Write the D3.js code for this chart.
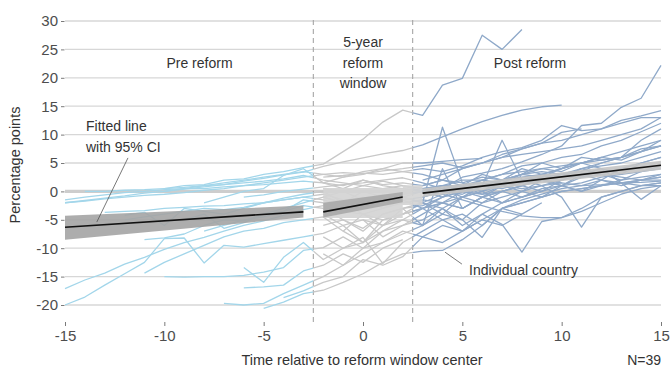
<!DOCTYPE html>
<html>
<head>
<meta charset="utf-8">
<script src="https://cdn.jsdelivr.net/npm/d3@7"></script>
<style>
  body { margin: 0; background: #fff; }
  svg { display: block; }
  text { font-family: "Liberation Sans", Arial, Helvetica, sans-serif; }
</style>
</head>
<body>
<svg id="chart" width="670" height="368"></svg>
<script>
// ---- data ----
const xTicks = [-15, -10, -5, 0, 5, 10, 15];
const yTicks = [-20, -15, -10, -5, 0, 5, 10, 15, 20, 25, 30];
const periodBreaks = [-2.5, 2.5];

// first year of each country's series (years run consecutively from there)
const countryStart = [-10, -15, -6, -15, -15, -11, -10, -6, -7, -5, -4, -6, -15, -15, -13, -12, -11, -8, -10, -12,
  -9, -14, -8, -2, -2, 0, -2, -1, -2, -2, 2, 3, -2, 3, 0, -2, 3, -2, -2];

// percentage-point change, one row per country
const countryValues = [
  [0.5, 1, 1.2, 2, 2.2, 3, 3.5, 4.2, 4.8, 7, 9.2, 12.2, 14.3, 13.4, 18.7, 19.9, 27.5, 25, 28.5],
  [-2, -1.6, -1.2, -0.8, -0.3, 0, 0.4, 0.8, 1.2, 1.8, 2.3, 2.9, 3.4, 4.4, 5.2, 5.9, 6.6, 7.2, 8.2, 9.6, 11, 12.3, 13.4, 14.3, 14.9, 15.2],
  [-1, -0.6, 0, 0.4, 0.8, 1.2, 1.5, 2, 2.4, 1.5, 0.5, 2.5, 3.2, 4, 5.2, 6.5, 8, 11.6, 12, 14.8, 16.4, 22.2],
  [-17.1, -15.6, -14.4, -12.8, -11.6, -10.2, -9, -8.1, -7, -6, -5.2, -4.2, -3.2, -2.5, -3, -1.5, -1, -0.5, 0, 1, 0.5, 2, 3, 4.5, 5, 6, 6.5, 8, 9, 10.5, 12],
  [-20, -18.6, -16.5, -14.5, -12.5, -8.3, -8.2, -12.6, -9.5, -9.8, -9.2, -8.6, -8, -7.4, -6, -9, -5, -4, -3, -2, -1, 0, 1.5, 1, 3, 4, 5, 6],
  [-14.4, -12.5, -11, -9.5, -8, -7, -6.5, -5.5, -5, -4.5, -7, -4, -6, -3, -2.5, -1, 0, -0.5, 1, 2, 2.5, 3, 3.5, 5, 6, 7, 8],
  [-15, -15.1, -15, -15, -14.8, -14.2, -13.4, -10.4, -9.9, -8, -10, -7, -6, -5, -3, -6, -4, -2, -1, 0],
  [-13.4, -16, -11.6, -9, -12, -10, -8.1, -12.7, -9, -7, -5, -4, -6, -3, -2, -1, 0, 0.5, 1, 2, 2.5, 3],
  [-19.7, -20, -19.7, -18, -16.5, -15, -13, -11, -9, -7.5, -6, -3, -5, -2, -1, 0, 1, 2],
  [-20.6, -19.5, -18, -17.4, -16, -14.5, -12.5, -11, -10.5, -10.4, -8.5, -6, -3, -1.5, -0.5, 0.5, 1, 1.2, 1.5, 1.6, 1.8],
  [-18.7, -17.5, -16, -15, -12, -13, -11.5, -8, -9, -7, -5, -6, -4],
  [-17, -16.8, -16.5, -14, -13, -11, -12.5, -10, -8.5],
  [-2, -1.7, -1.3, -1, -0.7, -0.5, -0.2, 0.2, 0.5, 1, 1.5, 2, 2.5, 3, 3.3, 3.1, 3.6, 4, 4.5, 5, 4.2, 5, 6, 6.5, 7, 7.5, 8, 9, 10, 11, 13],
  [-1.5, -1, -0.6, -0.2, 0, 0.3, 0.5, 0.5, 0.8, 1, 1.2, 1.5, 1.8, 1.5, 1, 2, 1.2, 1.5, 1, 2, 1.5, 2.5, 2, 3, 3.5, 3, 4, 4.5, 5, 6, 7],
  [-3.7, -3.5, -3.4, -3, -2.8, -2.6, -2.5, -2.2, -2, -1.5, -1, -0.5, -1.5, -2, -1, -0.5, 0, 0.5, -1, 1, 0.5, 1.5, 2, 1, 2.5, 3, 2, 3.5, 4],
  [-4.2, -3.7, -6, -3, -3.5, -4, -3, -2, -1.2, -0.5, 0, -2, -4, -3, -1.5, -1, 0, 1, -0.5, 0, 1, 2, 3, 2.5, 3],
  [-8.5, -8.2, -7.5, -6, -5, -5.2, -4, -3.5, -2.5, -3, -5, -6.5, -4, -3, -2, -4, -1, 0, -2, -1, 0, 1, 1.5, 2.5, 3, 3.5, 4.5],
  [-2, -1, 0, 0.5, 2.8, 4, 1.5, 0.5, 2, 1, 0.5, 0, -1, 1, 2, 1.5, 3, 4, 3.5, 5, 6, 5.5, 7, 9],
  [0, 0.5, 1, 1.5, 2, 2.5, 3, 3.5, 3, 2.5, 3.5, 4, 3.5, 3, 2, 4, 5, 6, 7.5, 8.5, 10.4, 11],
  [-5, -4.5, -4, -3.5, -3, -3.2, -2.8, -2, -1.5, -1, -1.5, -2.5, -1, -3, -2, -1.5, -2, -3, -1, 0, -1, 0.5, 1, 0, 1, 1.5, 2, 2],
  [-5, -4, -6.5, -5.5, -4, -3, -2, -1, -2, 0, -1, 0, 0.5, 1, 0, 1, 2, 3, 2.5, 4, 5, 5.5, 6, 7.5, 8],
  [0, 0, 0.2, 0.3, 0.5, 0.7, 1, 1.2, 1.5, 1.8, 2.2, 2.8, 2, 1.5, 1, 1.8, 1, 0.5, 1, 2, 2, 3, 3.5, 4, 4.5, 5, 6, 7, 8, 9],
  [-7, -6, -5, -4.5, -3.5, -1.5, -2, -3.5, -4, -5, -4, -3, -2, 0, -1, 1, 0, 2, 1.5],
  [2.5, 2.8, 3.2, 3, 3.5, 4, 3.5, 4.5, 6, 7, 7.7, 9, 11.6, 10.7, 11, 12.5, 13.3, 14.2],
  [-1, 0, -1.5, -0.5, -1, -2, 11.3, 1.5, 0, 2, 3, 5, 4, 6, 5.5, 6, 7, 8],
  [-3, -2, -1.5, -3, -1, 0, 1, 9, 2, 3, 2.5, 4, 5, 6, 9, 11],
  [-6, -5, -7, -4, -3, -6, 4, -3, -1, 0, 1, 2, 1, 3, 4, 3, 5, 6],
  [-7, -9, -6, -5, -3, -5, -7, -4, -5.8, -10.7, -5.3, -4.6, -3, -1, 0, 1, 1.5],
  [-1, -2, -3, -2, -1, -2, -0.5, -1.5, -2.5, -3.5, -4.3, -4.6, -4.6, -3.5, -2, -0.5, 0.5, 1],
  [-8, -10, -9, -7, -5, -6, -4, -5, -8.1, -3, -2, -1, 0, 0.5, 1, 1.5, 2, 2.5],
  [-1, 0, 0.5, 1, 1.5, 1, 2, 1, -1, -6.3, -1, 0, 1, 1],
  [-1, 0, -0.5, 1, 2, 2.5, 3, 4, 5, 4, 1.5, -1.4, 1],
  [1.5, 2.5, 3, 4, 5, 5, 5.3, 5.6, 5.8],
  [2, 3, 4, 5, 6.5, 7.5, 8.5, 9, 10, 11, 12, 13, 13],
  [-5, -6, -4, -2, -3, -1, -2, 0, 1, 0, 2, 3, 2, 4, 5, 6],
  [-11, -13, -10, -9, -7, -8, -6, -7, -5, -3, -4, -2],
  [1, 2, 1, 3, 2, 4, 3, 2.5, 4, 3, 2.5, 2, 2.5],
  [0.5, 0, 1, 0.5, 1, 0, 1, 1, 0, 1, 0.5, 1, 1.5, 1, 2, 1.5, 1, 1.5],
  [-4, -6, -5, -8, -6, -4, -2, -3, -1, -2, 0, -1, 1, 0, 2, 1, 2, 3]
];

// fitted lines with 95% confidence interval, one per period
const fitYears = [[-15, -3], [-2, 2], [3, 15]];
const fitValue = [[-6.3, -3.6], [-3.6, -1.0], [-0.3, 4.6]];
const fitLower = [[-8.5, -4.6], [-4.6, -1.9], [-1.0, 3.8]];
const fitUpper = [[-4.3, -2.5], [-2.0, -0.1], [0.5, 5.4]];

// pale halo around the reform-window fit
const haloYears = [-2, 2, 2, 3];
const haloUpper = [0.6, 0.6, 1.1, 1.1];
const haloLower = [-4.7, -4.7, -2.4, -2.4];

const periodNames = ["Pre reform", ["5-year", "reform", "window"], "Post reform"];

// ---- drawing ----
const svg = d3.select("#chart");
const x = d3.scaleLinear().domain([-15, 15]).range([65, 661]);
const y = d3.scaleLinear().domain([-20, 30]).range([305, 21]);

const colPre = "#a3d6ea", colWin = "#c8c8c8", colPost = "#8fa9c9";
const textCol = "#333";

// horizontal grid
svg.append("g").selectAll("line").data(yTicks).join("line")
  .attr("x1", x(-15)).attr("x2", x(15))
  .attr("y1", d => y(d)).attr("y2", d => y(d))
  .attr("stroke", "#d7d7d7").attr("stroke-width", 1.3);

// zero reference line
svg.append("line")
  .attr("x1", x(-15)).attr("x2", x(15)).attr("y1", y(0)).attr("y2", y(0))
  .attr("stroke", "#cdcdcd").attr("stroke-width", 3.2);

// period boundaries
svg.append("g").selectAll("line").data(periodBreaks).join("line")
  .attr("x1", d => x(d)).attr("x2", d => x(d))
  .attr("y1", 20).attr("y2", 322)
  .attr("stroke", "#a6a6a6").attr("stroke-width", 1.1)
  .attr("stroke-dasharray", "5,4");

// clip regions, one per period
const defs = svg.append("defs");
const clips = [
  ["clipPre", 0, x(periodBreaks[0])],
  ["clipWin", x(periodBreaks[0]), x(periodBreaks[1])],
  ["clipPost", x(periodBreaks[1]), 670]
];
clips.forEach(([id, x0, x1]) => {
  defs.append("clipPath").attr("id", id)
    .append("rect").attr("x", x0).attr("y", 0).attr("width", x1 - x0).attr("height", 368);
});

const series = countryValues.map((vals, i) => vals.map((v, j) => [countryStart[i] + j, v]));
const line = d3.line().x(d => x(d[0])).y(d => y(d[1]));

[["clipPre", colPre], ["clipWin", colWin], ["clipPost", colPost]].forEach(([id, col]) => {
  svg.append("g").attr("clip-path", `url(#${id})`)
    .selectAll("path").data(series).join("path")
    .attr("d", line)
    .attr("fill", "none").attr("stroke", col)
    .attr("stroke-width", 1.3).attr("stroke-linejoin", "round");
});

// halo behind the window fit
const bandArea = d3.area().x(d => x(d[0])).y0(d => y(d[1])).y1(d => y(d[2]));
svg.append("path")
  .datum(haloYears.map((t, i) => [t, haloLower[i], haloUpper[i]]))
  .attr("d", bandArea).attr("fill", "#d4d4d4").attr("opacity", 0.92);

// confidence bands and fitted lines
const bandFill = ["#a4a4a4", "#a8a8a8", "#c4c4c4"];
fitYears.forEach((ts, k) => {
  const pts = ts.map((t, i) => [t, fitLower[k][i], fitUpper[k][i]]);
  svg.append("path").datum(pts).attr("d", bandArea)
    .attr("fill", bandFill[k]).attr("opacity", 0.9);
});
fitYears.forEach((ts, k) => {
  svg.append("path").datum(ts.map((t, i) => [t, fitValue[k][i]]))
    .attr("d", line).attr("fill", "none")
    .attr("stroke", "#111").attr("stroke-width", 1.6);
});

// axes (plain hyphen-minus in tick labels)
const plain = d => String(d);
const yAxis = svg.append("g").attr("transform", "translate(64.5,0)")
  .call(d3.axisLeft(y).tickValues(yTicks).tickFormat(plain).tickSize(3.5).tickPadding(3));
const xAxis = svg.append("g").attr("transform", "translate(0,322)")
  .call(d3.axisBottom(x).tickValues(xTicks).tickFormat(plain).tickSize(4).tickPadding(4));
[yAxis, xAxis].forEach(g => {
  g.select(".domain").remove();
  g.selectAll(".tick line").attr("stroke", "#7a7a7a");
  g.selectAll(".tick text").attr("fill", "#4d4d4d")
    .style("font-family", '"Liberation Sans", Arial, sans-serif').style("font-size", "15px");
});

// axis titles
svg.append("text").attr("x", 362).attr("y", 365).attr("text-anchor", "middle")
  .attr("fill", textCol).style("font-size", "14.5px")
  .text("Time relative to reform window center");
svg.append("text").attr("x", 661).attr("y", 365).attr("text-anchor", "end")
  .attr("fill", textCol).style("font-size", "14px").text("N=39");
svg.append("text").attr("transform", "translate(20,165) rotate(-90)")
  .attr("text-anchor", "middle").attr("fill", textCol).style("font-size", "14.5px")
  .text("Percentage points");

// period headings
svg.append("text").attr("x", 199.5).attr("y", 68).attr("text-anchor", "middle")
  .attr("fill", textCol).style("font-size", "14px").text(periodNames[0]);
svg.append("text").attr("x", 363).attr("y", 47).attr("text-anchor", "middle")
  .attr("fill", textCol).style("font-size", "14px")
  .selectAll("tspan").data(periodNames[1]).join("tspan")
  .attr("x", 363).attr("dy", (d, i) => i === 0 ? 0 : 20.5).text(d => d);
svg.append("text").attr("x", 530).attr("y", 68).attr("text-anchor", "middle")
  .attr("fill", textCol).style("font-size", "14px").text(periodNames[2]);

// annotations
svg.append("text").attr("x", 86).attr("y", 131).attr("fill", textCol)
  .style("font-size", "14px")
  .selectAll("tspan").data(["Fitted line", "with 95% CI"]).join("tspan")
  .attr("x", 86).attr("dy", (d, i) => i === 0 ? 0 : 21).text(d => d);
svg.append("line")
  .attr("x1", x(-11.83)).attr("y1", y(5.9)).attr("x2", x(-13.4)).attr("y2", y(-5.4))
  .attr("stroke", "#555").attr("stroke-width", 0.8);

svg.append("text").attr("x", 469).attr("y", 275).attr("fill", textCol)
  .style("font-size", "14px").text("Individual country");
svg.append("line")
  .attr("x1", x(4.13)).attr("y1", y(-10.7)).attr("x2", x(4.98)).attr("y2", y(-12.8))
  .attr("stroke", "#555").attr("stroke-width", 0.8);
</script>
</body>
</html>
